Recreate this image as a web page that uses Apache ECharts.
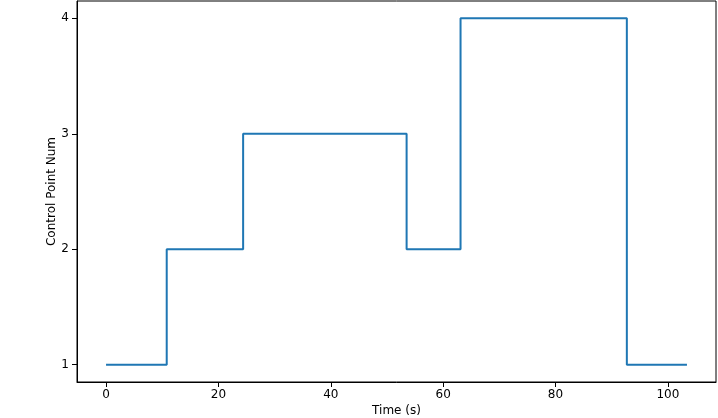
<!DOCTYPE html>
<html>
<head>
<meta charset="utf-8">
<script src="https://cdn.jsdelivr.net/npm/echarts@6/dist/echarts.min.js"></script>
<style>
  html, body { margin: 0; padding: 0; background: #fff; }
  #chart { width: 718px; height: 418px; }
</style>
</head>
<body>
<div id="chart"></div>
<script>
// 步进数据：时间 / 控制点数量
const times = [0, 10.8, 24.4, 53.5, 63.1, 92.7, 103.4];
const controlPoints = [1, 2, 3, 2, 4, 1, 1];
const xTicks = [0, 20, 40, 60, 80, 100];
const yTicks = [1, 2, 3, 4];

const font = 'DejaVu Sans';
let mychart = echarts.init(document.getElementById('chart'));

mychart.setOption({
    animation: false,
    grid: {
        left: 77,
        right: 2,
        top: 1,
        bottom: 36,
        containLabel: false,
        outerBoundsMode: 'none',
        show: true,
        borderColor: '#000',
        borderWidth: 1
    },
    xAxis: {
        type: 'value',
        min: -5.17,
        max: 108.57,
        name: 'Time (s)',
        nameLocation: 'middle',
        nameGap: 23,
        nameMoveOverlap: false,
        nameTextStyle: { fontFamily: font, fontSize: 12, color: '#000' },
        axisLine: { show: true, onZero: false, lineStyle: { color: '#000', width: 1 } },
        axisTick: { show: true, inside: false, length: 5, customValues: xTicks, lineStyle: { color: '#000' } },
        axisLabel: { customValues: xTicks, fontFamily: font, fontSize: 12, color: '#000', margin: 7 },
        splitLine: { show: false }
    },
    yAxis: {
        type: 'value',
        min: 0.85,
        max: 4.15,
        name: 'Control Point Num',
        nameLocation: 'middle',
        nameGap: 19,
        nameMoveOverlap: false,
        nameTextStyle: { fontFamily: font, fontSize: 12, color: '#000' },
        axisLine: { show: true, onZero: false, lineStyle: { color: '#000', width: 1 } },
        axisTick: { show: true, inside: false, length: 5, customValues: yTicks, lineStyle: { color: '#000' } },
        axisLabel: { customValues: yTicks, fontFamily: font, fontSize: 12, color: '#000', margin: 8 },
        splitLine: { show: false }
    },
    series: [
        {
            type: 'line',
            step: 'end',
            showSymbol: false,
            lineStyle: { color: '#1f77b4', width: 2 },
            data: times.map((t, i) => [t, controlPoints[i]])
        }
    ]
});
</script>
</body>
</html>
